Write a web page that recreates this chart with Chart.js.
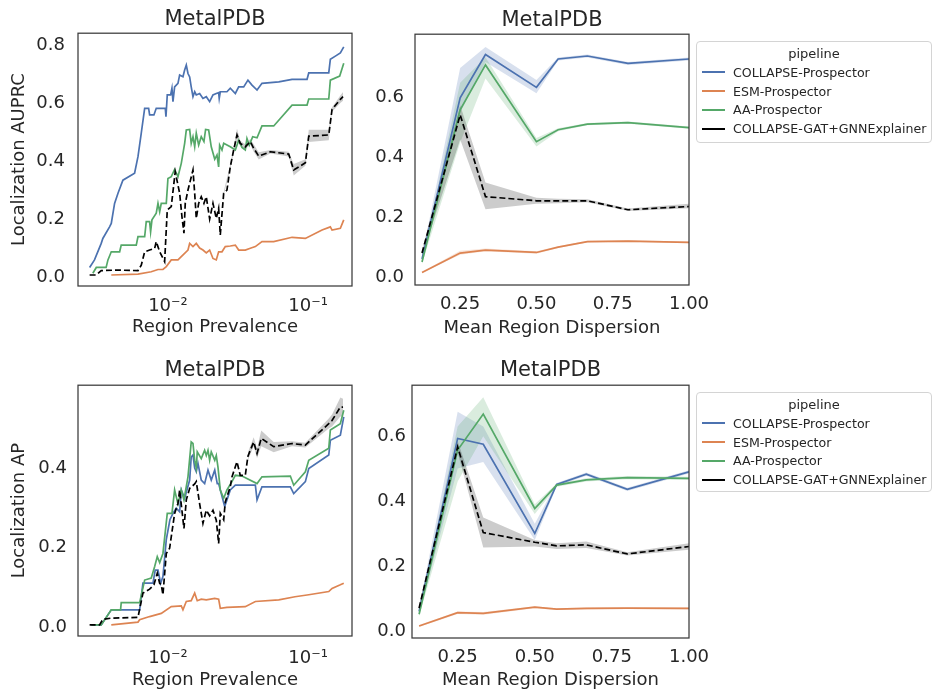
<!DOCTYPE html>
<html lang="en">
<head>
<meta charset="UTF-8" />
<title>MetalPDB localization by region prevalence and dispersion</title>
<style>
  body {
    margin: 0;
    width: 933px;
    height: 694px;
    position: relative;
    overflow: hidden;
    background: #fff;
    font-family: 'DejaVu Sans', sans-serif;
    color: #262626;
  }
  canvas { position: absolute; }
  #c1 { left: 0; top: 0; }
  #c2 { left: 360px; top: 0; }
  #c3 { left: 0; top: 352px; }
  #c4 { left: 360px; top: 352px; }
  .legend {
    position: absolute;
    left: 696px;
    width: 236px;
    box-sizing: border-box;
    border: 1px solid #d4d4d4;
    border-radius: 4px;
    background: rgba(255,255,255,0.8);
    font-size: 12.6px;
    white-space: nowrap;
  }
  #leg1 { top: 41px; height: 102px; }
  #leg2 { top: 392px; height: 100px; }
  .legend .ttl { text-align: center; line-height: 19px; margin-top: 2px; font-size: 13px; }
  .legend .row { display: flex; align-items: center; height: 18.8px; }
  .legend .sw { flex: none; width: 23px; height: 2px; margin: 0 8px 0 5px; }
</style>
</head>
<body>
<canvas id="c1" width="360" height="345"></canvas>
<canvas id="c2" width="573" height="345"></canvas>
<canvas id="c3" width="360" height="342"></canvas>
<canvas id="c4" width="573" height="342"></canvas>
<div class="legend" id="leg1"></div>
<div class="legend" id="leg2"></div>
<script src="https://cdn.jsdelivr.net/npm/chart.js@4.4.0/dist/chart.umd.min.js"></script>
<script>
  // pipelines (legend order) and seaborn "deep" colours
  const pipelines = ['COLLAPSE-Prospector', 'ESM-Prospector', 'AA-Prospector', 'COLLAPSE-GAT+GNNExplainer'];
  const colors = ['#4c72b0', '#dd8452', '#55a868', '#000000'];
  const bandColors = ['rgba(76,114,176,0.22)', 'rgba(221,132,82,0.22)', 'rgba(85,168,104,0.22)', 'rgba(0,0,0,0.2)'];

  const prevTicks = [0.01, 0.1];
  const prevTickLabels = ['10⁻²', '10⁻¹'];
  const dispTicks = [0.25, 0.5, 0.75, 1.0];
  const dispTickLabels = ['0.25', '0.50', '0.75', '1.00'];

  // ---- Localization AUPRC vs region prevalence: [prevalence, value]
  const auprcCollapse = [[0.00276,0.033],[0.00299,0.059],[0.00334,0.116],[0.00343,0.133],[0.00383,0.173],[0.00394,0.185],[0.00416,0.254],[0.0044,0.289],[0.00477,0.334],[0.00578,0.358],[0.00611,0.415],[0.00645,0.496],[0.00682,0.582],[0.00728,0.582],[0.0074,0.559],[0.00794,0.559],[0.00825,0.582],[0.00957,0.582],[0.00968,0.553],[0.00989,0.628],[0.01045,0.628],[0.01068,0.651],[0.01086,0.605],[0.01116,0.656],[0.01179,0.668],[0.01212,0.697],[0.0128,0.691],[0.01316,0.714],[0.01352,0.731],[0.0139,0.702],[0.01429,0.69],[0.01466,0.656],[0.01509,0.622],[0.01552,0.639],[0.01593,0.628],[0.01684,0.633],[0.01778,0.616],[0.01878,0.622],[0.01985,0.605],[0.02096,0.628],[0.02213,0.633],[0.02301,0.636],[0.02323,0.616],[0.02364,0.639],[0.02637,0.639],[0.02786,0.651],[0.03027,0.633],[0.03199,0.656],[0.03473,0.656],[0.03724,0.679],[0.03981,0.662],[0.04325,0.645],[0.0469,0.668],[0.0618,0.673],[0.0769,0.682],[0.0984,0.682],[0.1012,0.704],[0.1406,0.704],[0.1443,0.751],[0.1567,0.762],[0.1701,0.773],[0.1799,0.794]];
  const auprcEsm = [[0.00394,0.007],[0.00611,0.01],[0.0076,0.018],[0.00849,0.026],[0.00921,0.026],[0.00973,0.036],[0.01056,0.059],[0.01179,0.059],[0.01245,0.07],[0.0139,0.093],[0.01429,0.116],[0.01509,0.105],[0.01593,0.116],[0.01684,0.1],[0.01778,0.093],[0.01878,0.083],[0.01985,0.093],[0.02096,0.064],[0.02213,0.059],[0.02301,0.087],[0.02431,0.087],[0.02566,0.105],[0.02786,0.107],[0.03027,0.11],[0.03199,0.093],[0.03565,0.093],[0.03873,0.099],[0.04207,0.105],[0.0469,0.122],[0.05689,0.122],[0.0769,0.137],[0.09572,0.133],[0.1259,0.162],[0.1443,0.173],[0.1484,0.162],[0.1701,0.168],[0.1799,0.197]];
  const auprcAa = [[0.00291,0.013],[0.00308,0.033],[0.00362,0.033],[0.00373,0.059],[0.00394,0.087],[0.00452,0.087],[0.00464,0.11],[0.00594,0.11],[0.00611,0.139],[0.00682,0.139],[0.007,0.191],[0.0074,0.191],[0.00752,0.156],[0.00769,0.197],[0.00825,0.22],[0.00849,0.254],[0.00873,0.225],[0.00896,0.254],[0.00973,0.254],[0.01,0.34],[0.01056,0.346],[0.01116,0.371],[0.01179,0.346],[0.01245,0.392],[0.01316,0.461],[0.01352,0.507],[0.01429,0.509],[0.01466,0.461],[0.01509,0.484],[0.01552,0.449],[0.01593,0.496],[0.01657,0.455],[0.01729,0.484],[0.01807,0.467],[0.01857,0.509],[0.01953,0.507],[0.02038,0.449],[0.02158,0.406],[0.02239,0.421],[0.02301,0.38],[0.02339,0.455],[0.02431,0.438],[0.025,0.461],[0.02786,0.449],[0.03027,0.438],[0.03199,0.472],[0.03378,0.447],[0.03565,0.438],[0.03664,0.478],[0.03808,0.455],[0.04027,0.484],[0.04325,0.48],[0.0469,0.521],[0.05689,0.521],[0.0769,0.593],[0.0984,0.593],[0.1012,0.614],[0.1406,0.614],[0.1443,0.679],[0.1683,0.693],[0.1799,0.737]];
  const auprcGat = [[0.00276,0.007],[0.00308,0.007],[0.00334,0.022],[0.0044,0.024],[0.00611,0.022],[0.00645,0.041],[0.00682,0.087],[0.0074,0.093],[0.00804,0.099],[0.00825,0.122],[0.00873,0.087],[0.00947,0.053],[0.00989,0.231],[0.01056,0.243],[0.01127,0.363],[0.01212,0.289],[0.01259,0.208],[0.01301,0.151],[0.01329,0.254],[0.0139,0.3],[0.01509,0.369],[0.01552,0.289],[0.01593,0.202],[0.01657,0.254],[0.01729,0.277],[0.01807,0.254],[0.01878,0.277],[0.01985,0.2],[0.02096,0.254],[0.02213,0.202],[0.02301,0.237],[0.02364,0.145],[0.025,0.289],[0.02637,0.3],[0.02786,0.38],[0.02945,0.438],[0.03111,0.49],[0.03281,0.461],[0.03565,0.449],[0.03873,0.467],[0.04093,0.444],[0.04446,0.417],[0.05383,0.432],[0.07278,0.424],[0.07904,0.369],[0.09572,0.394],[0.1012,0.486],[0.1406,0.49],[0.1484,0.578],[0.1701,0.613],[0.1778,0.622]];
  // [prevalence, low, high] of the grey band
  const auprcGatBand = [[0.025,0.283,0.295],[0.02786,0.372,0.388],[0.02945,0.428,0.448],[0.03111,0.47,0.512],[0.03281,0.452,0.47],[0.03565,0.44,0.458],[0.03873,0.458,0.476],[0.04093,0.432,0.458],[0.04446,0.405,0.43],[0.05383,0.426,0.438],[0.07278,0.416,0.432],[0.07904,0.35,0.39],[0.09572,0.384,0.406],[0.1012,0.466,0.508],[0.1406,0.472,0.508],[0.1484,0.57,0.586],[0.1701,0.6,0.626],[0.1778,0.608,0.638]];

  // ---- Localization AP vs region prevalence
  const apCollapse = [[0.00284,0.005],[0.00334,0.005],[0.00394,0.043],[0.00628,0.043],[0.00663,0.11],[0.00782,0.11],[0.00811,0.143],[0.00849,0.143],[0.00887,0.11],[0.00921,0.127],[0.00973,0.22],[0.01033,0.27],[0.01086,0.286],[0.01146,0.299],[0.01212,0.29],[0.01245,0.345],[0.01316,0.324],[0.01429,0.37],[0.01466,0.428],[0.01509,0.433],[0.01552,0.4],[0.01593,0.391],[0.01638,0.412],[0.01729,0.37],[0.01828,0.361],[0.01931,0.395],[0.02038,0.37],[0.02158,0.395],[0.02249,0.361],[0.02301,0.361],[0.02541,0.303],[0.02637,0.32],[0.02786,0.345],[0.03027,0.357],[0.04207,0.357],[0.04325,0.32],[0.0469,0.353],[0.07477,0.353],[0.07904,0.336],[0.09572,0.366],[0.1012,0.399],[0.1406,0.433],[0.1443,0.47],[0.1701,0.483],[0.1799,0.529]];
  const apEsm = [[0.00394,0.005],[0.00611,0.012],[0.00628,0.018],[0.0074,0.026],[0.00896,0.034],[0.01056,0.051],[0.01245,0.053],[0.0128,0.043],[0.01352,0.064],[0.01466,0.066],[0.01552,0.085],[0.01619,0.066],[0.01729,0.07],[0.01878,0.068],[0.02158,0.072],[0.02301,0.07],[0.02364,0.047],[0.02637,0.049],[0.03565,0.051],[0.04207,0.064],[0.0618,0.068],[0.08072,0.076],[0.1012,0.081],[0.1406,0.089],[0.1484,0.097],[0.1701,0.106],[0.1799,0.11]];
  const apAa = [[0.00284,0.005],[0.00334,0.005],[0.00394,0.043],[0.00459,0.043],[0.00464,0.061],[0.00628,0.061],[0.00682,0.118],[0.0076,0.123],[0.00804,0.152],[0.00839,0.177],[0.00873,0.162],[0.00921,0.185],[0.00989,0.286],[0.01068,0.286],[0.01116,0.345],[0.01179,0.31],[0.01245,0.345],[0.01301,0.32],[0.0139,0.378],[0.01466,0.466],[0.01509,0.462],[0.01552,0.42],[0.01593,0.4],[0.01619,0.441],[0.01729,0.424],[0.01828,0.445],[0.01878,0.432],[0.01931,0.445],[0.01985,0.42],[0.02038,0.441],[0.02158,0.42],[0.02213,0.432],[0.02275,0.403],[0.02364,0.345],[0.025,0.324],[0.02637,0.345],[0.02864,0.366],[0.03027,0.382],[0.03378,0.38],[0.04325,0.361],[0.0469,0.378],[0.07477,0.38],[0.07904,0.357],[0.09572,0.391],[0.1012,0.42],[0.1406,0.45],[0.1443,0.496],[0.1701,0.512],[0.1799,0.546]];
  const apGat = [[0.00276,0.005],[0.00325,0.005],[0.00343,0.019],[0.00394,0.022],[0.00611,0.024],[0.00663,0.085],[0.0074,0.095],[0.00794,0.106],[0.00839,0.135],[0.00873,0.11],[0.00896,0.106],[0.00921,0.081],[0.00973,0.185],[0.01028,0.198],[0.01116,0.286],[0.01179,0.311],[0.01212,0.345],[0.01301,0.248],[0.01352,0.32],[0.01429,0.349],[0.01552,0.36],[0.01593,0.366],[0.01684,0.31],[0.01778,0.261],[0.01878,0.294],[0.01985,0.28],[0.02096,0.294],[0.02213,0.269],[0.02301,0.21],[0.02364,0.286],[0.025,0.27],[0.02566,0.315],[0.02786,0.353],[0.02864,0.378],[0.03111,0.416],[0.03281,0.382],[0.03565,0.382],[0.03724,0.43],[0.04093,0.466],[0.04325,0.437],[0.04634,0.475],[0.05689,0.454],[0.0769,0.462],[0.09572,0.458],[0.1406,0.512],[0.1484,0.52],[0.1701,0.554],[0.1778,0.554]];
  const apGatBand = [[0.03724,0.42,0.44],[0.04093,0.455,0.478],[0.04325,0.425,0.45],[0.04634,0.455,0.495],[0.05689,0.44,0.466],[0.0769,0.455,0.468],[0.09572,0.452,0.464],[0.1406,0.5,0.525],[0.1484,0.505,0.535],[0.1701,0.53,0.578],[0.1778,0.53,0.575]];

  // ---- mean region dispersion panels
  const dispersion = [0.125, 0.25, 0.333, 0.5, 0.571, 0.667, 0.8, 1.0];

  const auprcDispMean = [
    [0.06, 0.60, 0.745, 0.635, 0.73, 0.74, 0.715, 0.73],
    [0.015, 0.08, 0.09, 0.082, 0.10, 0.118, 0.12, 0.116],
    [0.05, 0.56, 0.71, 0.453, 0.493, 0.512, 0.517, 0.50],
    [0.08, 0.543, 0.269, 0.255, 0.255, 0.255, 0.225, 0.236]
  ];
  const auprcDispLow = [
    [0.05, 0.55, 0.72, 0.615, 0.725, 0.735, 0.71, 0.725],
    [0.013, 0.074, 0.086, 0.078, 0.097, 0.115, 0.117, 0.113],
    [0.045, 0.45, 0.665, 0.437, 0.488, 0.508, 0.513, 0.496],
    [0.07, 0.46, 0.227, 0.245, 0.247, 0.25, 0.221, 0.23]
  ];
  const auprcDispHigh = [
    [0.07, 0.70, 0.77, 0.66, 0.735, 0.745, 0.72, 0.735],
    [0.017, 0.088, 0.095, 0.086, 0.103, 0.121, 0.123, 0.119],
    [0.055, 0.65, 0.736, 0.465, 0.498, 0.516, 0.521, 0.504],
    [0.09, 0.575, 0.316, 0.265, 0.262, 0.26, 0.229, 0.245]
  ];

  const apDispMean = [
    [0.06, 0.593, 0.575, 0.30, 0.451, 0.483, 0.436, 0.49],
    [0.015, 0.056, 0.054, 0.073, 0.067, 0.069, 0.07, 0.069],
    [0.051, 0.557, 0.668, 0.377, 0.449, 0.465, 0.472, 0.47],
    [0.07, 0.567, 0.303, 0.273, 0.262, 0.265, 0.237, 0.26]
  ];
  const apDispLow = [
    [0.05, 0.50, 0.52, 0.28, 0.446, 0.478, 0.431, 0.485],
    [0.012, 0.052, 0.05, 0.07, 0.064, 0.066, 0.067, 0.066],
    [0.045, 0.46, 0.60, 0.36, 0.444, 0.46, 0.467, 0.465],
    [0.06, 0.55, 0.257, 0.26, 0.252, 0.255, 0.232, 0.25]
  ];
  const apDispHigh = [
    [0.07, 0.675, 0.63, 0.33, 0.456, 0.488, 0.441, 0.495],
    [0.018, 0.06, 0.058, 0.076, 0.07, 0.072, 0.073, 0.072],
    [0.057, 0.63, 0.72, 0.39, 0.454, 0.47, 0.477, 0.475],
    [0.08, 0.585, 0.349, 0.28, 0.27, 0.275, 0.242, 0.27]
  ];

  const ink = '#262626';

  // draws the axes box on all four sides
  const frame = {
    id: 'frame',
    afterDraw(chart) {
      const { ctx, chartArea: a } = chart;
      ctx.save();
      ctx.strokeStyle = '#3a3a3a';
      ctx.lineWidth = 1.25;
      ctx.strokeRect(a.left, a.top, a.right - a.left, a.bottom - a.top);
      ctx.restore();
    }
  };

  function line(i, points, order) {
    return {
      label: pipelines[i],
      data: points,
      borderColor: colors[i],
      backgroundColor: colors[i],
      borderWidth: 1.7,
      borderDash: i === 3 ? [6, 3] : [],
      pointRadius: 0,
      fill: false,
      order: order
    };
  }

  // lower edge then upper edge filled back to it
  function band(i, lows, highs) {
    return [
      { data: lows, borderWidth: 0, pointRadius: 0, fill: false, order: 10 },
      { data: highs, borderWidth: 0, pointRadius: 0, fill: '-1', backgroundColor: bandColors[i], order: 10 }
    ];
  }

  const xy = arr => arr.map(p => ({ x: p[0], y: p[1] }));
  const bandLow = arr => arr.map(p => ({ x: p[0], y: p[1] }));
  const bandHigh = arr => arr.map(p => ({ x: p[0], y: p[2] }));
  const onDisp = ys => dispersion.map((x, k) => ({ x: x, y: ys[k] }));

  function panel(id, datasets, o) {
    return new Chart(document.getElementById(id), {
      type: 'line',
      data: { datasets: datasets },
      options: {
        responsive: false,
        animation: false,
        events: [],
        layout: { padding: { left: 0, right: o.padRight, top: 0, bottom: 0 } },
        plugins: {
          legend: { display: false },
          tooltip: { enabled: false },
          title: {
            display: true,
            fullSize: false,
            text: 'MetalPDB',
            color: ink,
            font: { family: 'DejaVu Sans', size: 21, weight: 'normal' },
            padding: { top: o.titleTop, bottom: o.titleBottom }
          }
        },
        scales: {
          x: {
            type: o.log ? 'logarithmic' : 'linear',
            min: o.xMin,
            max: o.xMax,
            grid: { display: false, drawTicks: false },
            border: { display: false },
            afterBuildTicks: s => { s.ticks = o.xTicks.map(v => ({ value: v })); },
            afterFit: s => { s.height = o.xHeight; },
            ticks: {
              color: ink,
              font: { family: 'DejaVu Sans', size: 18 },
              padding: o.xPad,
              maxRotation: 0,
              autoSkip: false,
              callback: (v, k) => o.xLabels[k]
            },
            title: {
              display: true,
              text: o.xTitle,
              color: ink,
              font: { family: 'DejaVu Sans', size: 18 },
              padding: { top: 0, bottom: o.xTitlePad }
            }
          },
          y: {
            min: o.yMin,
            max: o.yMax,
            grid: { display: false, drawTicks: false },
            border: { display: false },
            afterBuildTicks: s => { s.ticks = o.yTicks.map(v => ({ value: v })); },
            afterFit: s => { s.width = o.yWidth; },
            ticks: {
              color: ink,
              font: { family: 'DejaVu Sans', size: 18 },
              padding: o.yPad,
              callback: v => v.toFixed(1)
            },
            title: {
              display: !!o.yTitle,
              text: o.yTitle || '',
              color: ink,
              font: { family: 'DejaVu Sans', size: 18 },
              padding: { top: 9, bottom: 0 }
            }
          }
        }
      },
      plugins: [frame]
    });
  }

  function prevalenceSets(series, gatBand) {
    return [
      line(3, xy(series[3]), 0),
      line(2, xy(series[2]), 1),
      line(1, xy(series[1]), 2),
      line(0, xy(series[0]), 3),
      ...band(3, bandLow(gatBand), bandHigh(gatBand))
    ];
  }

  function dispersionSets(mean, low, high) {
    const sets = [
      line(3, onDisp(mean[3]), 0),
      line(2, onDisp(mean[2]), 1),
      line(1, onDisp(mean[1]), 2),
      line(0, onDisp(mean[0]), 3)
    ];
    for (const i of [3, 2, 1, 0]) sets.push(...band(i, onDisp(low[i]), onDisp(high[i])));
    return sets;
  }

  const prevAxis = { log: true, xMin: 0.00228, xMax: 0.206, xTicks: prevTicks, xLabels: prevTickLabels, xTitle: 'Region Prevalence', yWidth: 78, padRight: 8 };
  const dispAxis = { log: false, xMin: 0.102, xMax: 1.0, xTicks: dispTicks, xLabels: dispTickLabels, xTitle: 'Mean Region Dispersion', padRight: 244 };

  panel('c1', prevalenceSets([auprcCollapse, auprcEsm, auprcAa, auprcGat], auprcGatBand), Object.assign({}, prevAxis, {
    yMin: -0.031, yMax: 0.841, yTicks: [0, 0.2, 0.4, 0.6, 0.8], yPad: 13, yTitle: 'Localization AUPRC',
    titleTop: 7, titleBottom: 1, xHeight: 59, xPad: 10, xTitlePad: 7
  }));

  panel('c2', dispersionSets(auprcDispMean, auprcDispLow, auprcDispHigh), Object.assign({}, dispAxis, {
    yMin: -0.027, yMax: 0.813, yTicks: [0, 0.2, 0.4, 0.6], yWidth: 55, yPad: 11,
    titleTop: 8, titleBottom: 1, xHeight: 60, xPad: 9, xTitlePad: 6
  }));

  panel('c3', prevalenceSets([apCollapse, apEsm, apAa, apGat], apGatBand), Object.assign({}, prevAxis, {
    yMin: -0.023, yMax: 0.609, yTicks: [0, 0.2, 0.4], yPad: 11, yTitle: 'Localization AP',
    titleTop: 6, titleBottom: 2, xHeight: 58, xPad: 12, xTitlePad: 3
  }));

  panel('c4', dispersionSets(apDispMean, apDispLow, apDispHigh), Object.assign({}, dispAxis, {
    yMin: -0.022, yMax: 0.757, yTicks: [0, 0.2, 0.4, 0.6], yWidth: 52, yPad: 6,
    titleTop: 6, titleBottom: 2, xHeight: 56, xPad: 9, xTitlePad: 3
  }));

  // legends next to the dispersion panels
  for (const id of ['leg1', 'leg2']) {
    const box = document.getElementById(id);
    let html = '<div class="ttl">pipeline</div>';
    pipelines.forEach((name, i) => {
      html += '<div class="row"><span class="sw" style="background:' + colors[i] + '"></span>' + name + '</div>';
    });
    box.innerHTML = html;
  }
</script>
</body>
</html>
